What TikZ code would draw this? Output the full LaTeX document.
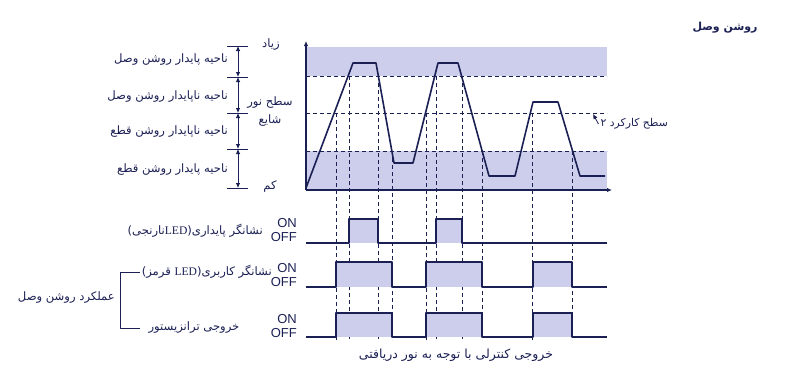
\documentclass[tikz,border=0pt]{standalone}
\usepackage{fontspec}
\setmainfont{DejaVu Sans}
\newfontfamily\fa[Script=Arabic]{DejaVu Sans}
\newfontfamily\onoff{Liberation Sans}
\newfontfamily\ledfont{Liberation Serif}
\TeXXeTstate=1
\usetikzlibrary{arrows.meta,positioning,calc}
\definecolor{ink}{RGB}{27,32,84}
\definecolor{band}{RGB}{204,206,236}
\newcommand{\fatext}[1]{{\fa\beginR #1\endR}}

\begin{document}
\begin{tikzpicture}[x=1pt,y=-1pt,font=\fa\fontsize{11.6}{18}\selectfont,>={Latex[length=5pt,width=4.5pt]},line join=round,color=ink]
  \tikzstyle{lbl}=[text=ink,inner sep=0pt]
  \tikzstyle{grid}=[line width=0.8pt,dash pattern=on 4pt off 3pt]
  \tikzstyle{sig}=[line width=1.3pt]
  \tikzstyle{state}=[lbl,font=\onoff\fontsize{13}{14}\selectfont,align=right,anchor=east]
  \useasboundingbox (0,0) rectangle (800,381);
  % light level bands
  \fill[band] (306,47) rectangle (607,76);
  \fill[band] (306,151) rectangle (607,190);
  \foreach \y/\n in {76/hi,113/mid,151/lo} {
    \coordinate (\n L) at (306,\y); \coordinate (\n R) at (607,\y);
    \draw[grid] (\n L) -- (\n R);
  }
  % axes
  \coordinate (O) at (306,190);
  \coordinate (ytop) at (306,41);
  \coordinate (xend) at (612,190);
  \draw[line width=1.2pt,->] (O) -- (ytop);
  \draw[line width=1.2pt,->] (O) -- (xend);
  % switching points
  \foreach \x/\y in {336/113,349/76,378/76,392/151,426/113,436/76,462/76,482/151,532/113,572/151}
    \draw[grid] (\x,\y) -- (\x,340);
  % received light
  \draw[line width=1.6pt] (306,188) -- (353,63) -- (376,63) -- (394,163) -- (413,163) -- (438,63) -- (458,63)
    -- (489,176) -- (515,176) -- (533,102) -- (558,102) -- (580,176) -- (605,176);
  % stability indicator
  \fill[band] (349,219) rectangle (378,243);
  \fill[band] (436,219) rectangle (462,243);
  \draw[sig] (306,243) -- (349,243) -- (349,219) -- (378,219) -- (378,243) -- (436,243) -- (436,219)
    -- (462,219) -- (462,243) -- (607,243);
  % operation indicator and transistor output
  \foreach \hi/\lo in {262/287,313/337} {
    \foreach \a/\b in {336/392,426/482,533/572}
      \fill[band] (\a,\hi) rectangle (\b,\lo);
    \draw[sig] (306,\lo) -- (336,\lo) -- (336,\hi) -- (392,\hi) -- (392,\lo) -- (426,\lo) -- (426,\hi)
      -- (482,\hi) -- (482,\lo) -- (533,\lo) -- (533,\hi) -- (572,\hi) -- (572,\lo) -- (607,\lo);
  }
  % level scale
  \foreach \i/\y in {1/46,2/77,3/113,4/149,5/188} {
    \coordinate (t\i) at (238,\y);
    \draw[line width=0.8pt] ([xshift=-11pt]t\i) -- ([xshift=10pt]t\i);
  }
  \foreach \i/\j in {1/2,2/3,3/4,4/5} \draw[line width=0.8pt,<->] (t\i) -- (t\j);
  \node[lbl] (high) at (271,45) {\fatext{زیاد}};
  \node[lbl] (low) at (270,186) {\fatext{کم}};
  \node[lbl,align=center] (amb) at (270,112) {\fatext{سطح نور}\\\fatext{شایع}};
  \node[lbl,anchor=east] (z1) at (228,60) {\fatext{ناحیه پایدار روشن وصل}};
  \node[lbl,anchor=east] (z2) at (228,97) {\fatext{ناحیه ناپایدار روشن وصل}};
  \node[lbl,anchor=east] (z3) at (228,132) {\fatext{ناحیه ناپایدار روشن قطع}};
  \node[lbl,anchor=east] (z4) at (228,170) {\fatext{ناحیه پایدار روشن قطع}};
  % operating level
  \node[lbl,anchor=east,font=\fa\fontsize{10.8}{13}\selectfont] (work) at (668,124) {\fatext{سطح کارکرد ۲}};
  \coordinate (wp) at (593,114);
  \draw[line width=0.8pt,->] ([xshift=-2pt]work.west) -- (wp);
  \node[lbl,font=\fa\bfseries\fontsize{11}{13}\selectfont] (title) at (725,28) {\fatext{روشن وصل}};
  % signal names
  \node[state] (st1) at (297,230) {ON\\OFF};
  \node[state] (st2) at (297,275) {ON\\OFF};
  \node[state] (st3) at (297,326) {ON\\OFF};
  \node[lbl,anchor=east] (ledor) at (263,231) {\fatext{نشانگر پایداری(\beginL{\ledfont LED}\endL نارنجی)}};
  \node[lbl,anchor=east] (ledred) at (272,272) {\fatext{نشانگر کاربری(\beginL{\ledfont LED}\endL{} قرمز)}};
  \node[lbl] (trans) at (194,328) {\fatext{خروجی ترانزیستور}};
  \node[lbl,anchor=east] (mode) at (115,298) {\fatext{عملکرد روشن وصل}};
  \draw[line width=0.8pt] ([xshift=-2pt]ledred.west) -- ++(-19,0) |- ([xshift=-8pt]trans.west);
  \node[lbl,font=\fa\fontsize{12.5}{14}\selectfont] (cap) at (456,355) {\fatext{خروجی کنترلی با توجه به نور دریافتی}};
\end{tikzpicture}
\end{document}
